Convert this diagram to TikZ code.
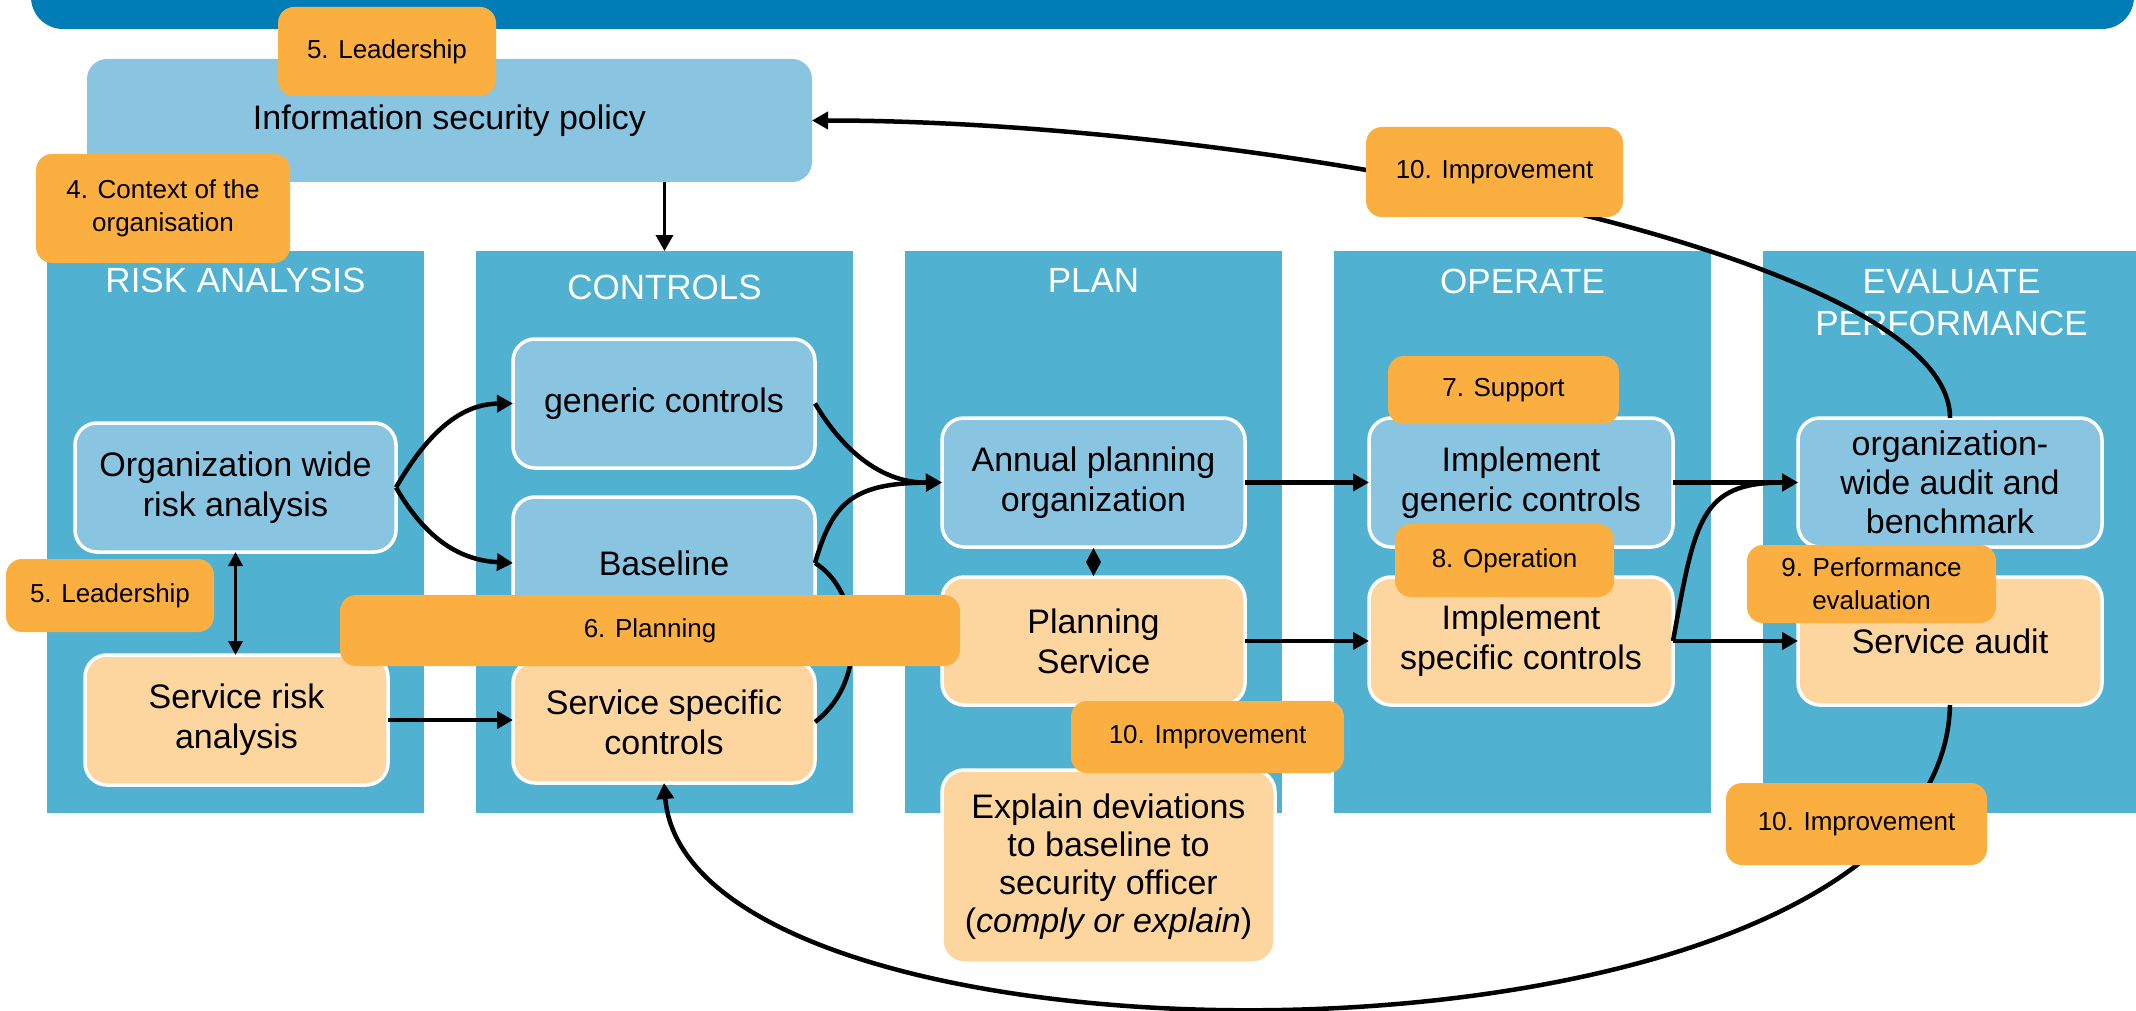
\documentclass[tikz,border=0pt]{standalone}
\usepackage{fontspec}
\setmainfont{Liberation Sans}
\usetikzlibrary{arrows.meta,calc}
\definecolor{bannerc}{HTML}{007DB6}
\definecolor{panelc}{HTML}{50B1D1}
\definecolor{lblue}{HTML}{89C4E1}
\definecolor{lorange}{HTML}{FDD69F}
\definecolor{orangec}{HTML}{FBAF41}
\begin{document}
\begin{tikzpicture}[x=1pt,y=-1pt,
  panel/.style={fill=panelc, inner sep=0pt, outer sep=0pt},
  box/.style={draw=white, line width=3.5pt, rounded corners=22pt, inner sep=0pt, outer sep=0pt, align=center, font=\fontsize{34}{40}\selectfont},
  bluebox/.style={box, fill=lblue},
  orbox/.style={box, fill=lorange},
  lbl/.style={fill=orangec, rounded corners=16pt, inner sep=0pt, outer sep=0pt, align=center, font=\fontsize{26}{33}\selectfont},
  ttl/.style={text=white, font=\fontsize{35}{42}\selectfont, inner sep=0pt, anchor=north, align=center},
  conn/.style={line width=4.5pt},
  arr/.style={conn, -{Triangle[length=16pt,width=17pt]}}
]
\useasboundingbox (0,0) rectangle (2136,1011);
\clip (0,0) rectangle (2136,1011);

% banner
\fill[bannerc, rounded corners=32pt] (31,-60) rectangle (2134,29);

% panels
\node[panel, minimum width=377pt, minimum height=562pt] (p1) at (235.5,532) {};
\node[panel, minimum width=377pt, minimum height=562pt] (p2) at (664.5,532) {};
\node[panel, minimum width=377pt, minimum height=562pt] (p3) at (1093.5,532) {};
\node[panel, minimum width=377pt, minimum height=562pt] (p4) at (1522.5,532) {};
\node[panel, minimum width=377pt, minimum height=562pt] (p5) at (1951.5,532) {};

% titles
\node[ttl] (t1) at (235.5,268) {RISK ANALYSIS};
\node[ttl] (t2) at (664.5,275) {CONTROLS};
\node[ttl] (t3) at (1093.5,268) {PLAN};
\node[ttl] (t4) at (1522.5,269) {OPERATE};
\node[ttl] (t5) at (1951.5,269) {EVALUATE\\PERFORMANCE};

% boxes
\node[box, draw=none, fill=lblue, rounded corners=20pt, minimum width=725pt, minimum height=123pt] (pol) at (449.5,120.5) {Information security policy};
\node[bluebox, minimum width=321pt, minimum height=129pt] (ora) at (235.5,487.5) {Organization wide\\risk analysis};
\node[orbox, minimum width=303pt, minimum height=130pt] (sra) at (236.5,720) {Service risk\\analysis};
\node[bluebox, minimum width=302pt, minimum height=129pt] (gen) at (664,403.5) {generic controls};
\node[bluebox, minimum width=302pt, minimum height=132pt] (base) at (664,563) {Baseline};
\node[orbox, minimum width=302pt, minimum height=122pt] (ssc) at (664,722) {Service specific\\controls};
\node[bluebox, minimum width=303pt, minimum height=129pt] (apo) at (1093.5,482.5) {Annual planning\\organization};
\node[orbox, minimum width=303pt, minimum height=128pt] (ps) at (1093.5,641) {Planning\\Service};
\node[orbox, minimum width=333pt, minimum height=193pt, font=\fontsize{34}{38}\selectfont] (exp) at (1108.5,866.5) {Explain deviations\\to baseline to\\security officer\\(\textit{comply or explain})};
\node[bluebox, minimum width=304pt, minimum height=129pt] (igc) at (1521,482.5) {Implement\\generic controls};
\node[orbox, minimum width=304pt, minimum height=128pt] (isc) at (1521,641) {Implement\\specific controls};
\node[bluebox, minimum width=304pt, minimum height=129pt, font=\fontsize{34}{39}\selectfont] (owa) at (1950,482.5) {organization-\\wide audit and\\benchmark};
\node[orbox, minimum width=304pt, minimum height=128pt] (sa) at (1950,641) {Service audit};

% connectors
\draw[arr, line width=3.5pt] (pol.south -| p2.north) -- (p2.north);
\draw[arr] (ora.east) .. controls (424,439) and (457,404) .. (gen.west);
\draw[arr] (ora.east) .. controls (424,536) and (457,560) .. (base.west);
\draw[conn, line width=3.5pt, {Triangle[length=14pt,width=14pt]}-{Triangle[length=14pt,width=14pt]}] (ora.south) -- (ora.south |- sra.north);
\draw[arr] (sra.east) -- (sra.east -| ssc.west);
\draw[arr] (gen.east) .. controls (845,454) and (884,483) .. (apo.west);
\draw[arr] (base.east) .. controls (832,505) and (850,483) .. (apo.west);
\draw[conn] (ssc.east) .. controls (870,680) and (860,590) .. (base.east);
\fill ($(apo.south)+(0,1)$) -- ($(apo.south)!0.5!(ps.north)+(7.5,0)$) -- ($(ps.north)-(0,1)$) -- ($(apo.south)!0.5!(ps.north)-(7.5,0)$) -- cycle;
\draw[arr] (apo.east) -- (apo.east -| igc.west);
\draw[arr] (ps.east) -- (ps.east -| isc.west);
\draw[arr] (igc.east) -- (igc.east -| owa.west);
\draw[arr] (isc.east) -- (isc.east -| sa.west);
\draw[arr] (isc.east) .. controls (1695,520) and (1700,482.5) .. (owa.west);
\draw[arr] (owa.north) .. controls (1950,250) and (1250,120.5) .. (pol.east);
\draw[arr] (sa.south) .. controls (1940,1095) and (690,1095) .. (ssc.south);

% orange labels
\node[lbl, minimum width=218pt, minimum height=89pt] (l5a) at (387,51.5) {5. Leadership};
\node[lbl, minimum width=254pt, minimum height=109pt] (l4) at (163,208.5) {4. Context of the\\organisation};
\node[lbl, minimum width=208pt, minimum height=73pt] (l5b) at (110,595.5) {5. Leadership};
\node[lbl, minimum width=620pt, minimum height=71pt] (l6) at (650,630.5) {6. Planning};
\node[lbl, minimum width=231pt, minimum height=68pt] (l7) at (1503.5,390) {7. Support};
\node[lbl, minimum width=219pt, minimum height=73pt] (l8) at (1504.5,560.5) {8. Operation};
\node[lbl, minimum width=249pt, minimum height=78pt] (l9) at (1871.5,584) {9. Performance\\evaluation};
\node[lbl, minimum width=257pt, minimum height=90pt] (l10a) at (1494.5,172) {10. Improvement};
\node[lbl, minimum width=273pt, minimum height=72pt] (l10b) at (1207.5,737) {10. Improvement};
\node[lbl, minimum width=261pt, minimum height=82pt] (l10c) at (1856.5,824) {10. Improvement};
\end{tikzpicture}
\end{document}
